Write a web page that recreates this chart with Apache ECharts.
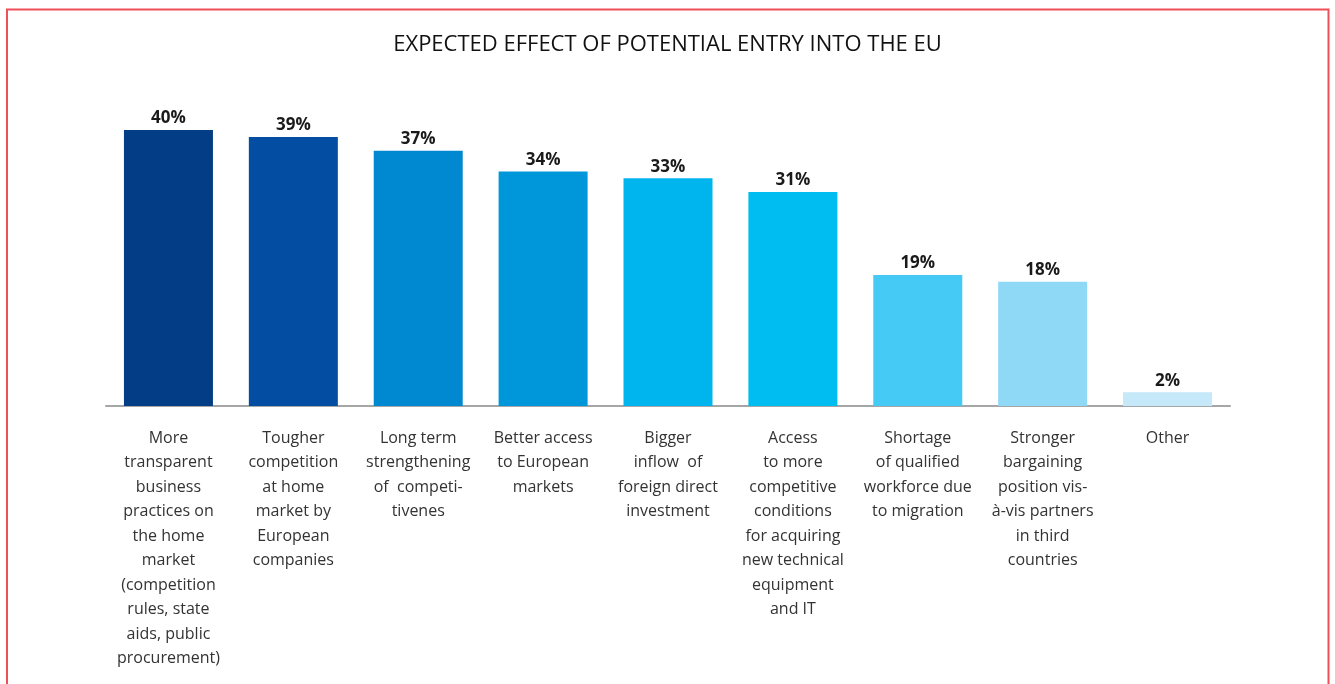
<!DOCTYPE html>
<html>
<head>
<meta charset="utf-8">
<script src="https://cdn.jsdelivr.net/npm/echarts@6/dist/echarts.min.js"></script>
<style>
  html, body { margin: 0; padding: 0; background: #fff; }
  #chart { width: 1335px; height: 684px; }
</style>
</head>
<body>
<div id="chart"></div>
<script>
// Survey answers: expected effect of potential entry into the EU
const categories = [
  'More\ntransparent\nbusiness\npractices on\nthe home\nmarket\n(competition\nrules, state\naids, public\nprocurement)',
  'Tougher\ncompetition\nat home\nmarket by\nEuropean\ncompanies',
  'Long term\nstrengthening\nof  competi-\ntivenes',
  'Better access\nto European\nmarkets',
  'Bigger\ninflow  of\nforeign direct\ninvestment',
  'Access\nto more\ncompetitive\nconditions\nfor acquiring\nnew technical\nequipment\nand IT',
  'Shortage\nof qualified\nworkforce due\nto migration',
  'Stronger\nbargaining\nposition vis-\nà-vis partners\nin third\ncountries',
  'Other'
];
const shares = [40, 39, 37, 34, 33, 31, 19, 18, 2];
const barColors = ['#033d86', '#034ea2', '#0089d0', '#0097da', '#00b5ee', '#00bdf1', '#45caf6', '#8fd9f7', '#c5e9f8'];

const chart = echarts.init(document.getElementById('chart'));
chart.setOption({
  backgroundColor: '#ffffff',
  animation: false,
  title: {
    text: 'EXPECTED EFFECT OF POTENTIAL ENTRY INTO THE EU',
    left: 'center',
    top: 29,
    textStyle: { fontFamily: 'Open Sans', fontSize: 22, fontWeight: 'normal', color: '#111' }
  },
  graphic: [
    {
      type: 'rect',
      shape: { x: 7, y: 9.5, width: 1321.5, height: 700 },
      style: { fill: 'none', stroke: '#ef4f58', lineWidth: 2 },
      silent: true
    }
  ],
  grid: { left: 106, right: 105, top: 130, bottom: 278, containLabel: false },
  xAxis: {
    type: 'category',
    data: categories,
    axisLine: { lineStyle: { color: '#a6a6a6', width: 2 } },
    axisTick: { show: false },
    axisLabel: {
      interval: 0,
      margin: 20,
      fontFamily: 'Open Sans',
      fontSize: 16,
      lineHeight: 24.5,
      color: '#333',
      align: 'center'
    }
  },
  yAxis: {
    type: 'value',
    min: 0,
    max: 40,
    show: false,
    splitLine: { show: false }
  },
  series: [{
    type: 'bar',
    data: shares.map((v, i) => ({ value: v, itemStyle: { color: barColors[i] } })),
    barWidth: 89,
    label: {
      show: true,
      position: 'top',
      distance: 3,
      formatter: '{c}%',
      fontFamily: 'Open Sans',
      fontSize: 17,
      fontWeight: 'bold',
      color: '#1a1a1a'
    }
  }]
});
</script>
</body>
</html>
